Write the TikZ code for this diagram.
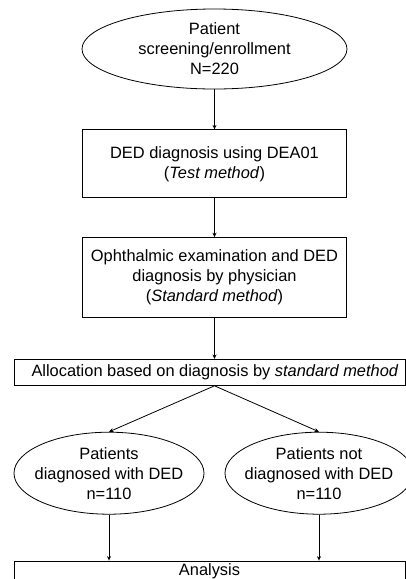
\documentclass[tikz,border=0pt]{standalone}
\usepackage{fontspec}
\setmainfont{Liberation Sans}
\usetikzlibrary{shapes.geometric, arrows.meta, positioning}
\tikzset{>={Stealth}}

\begin{document}
\begin{tikzpicture}[
      node distance=40pt,
      oval/.style={ellipse, draw, fill=white, align=center, inner sep=-12pt, line width=0.8pt, font=\fontsize{16.4}{20}\selectfont},
      block/.style={rectangle, draw, fill=white, align=center, minimum width=264pt, inner sep=0pt, line width=0.8pt, font=\fontsize{16.4}{20}\selectfont},
      wide/.style={rectangle, draw, fill=white, align=center, minimum width=391pt, inner sep=0pt, line width=0.8pt, font=\fontsize{16.4}{20}\selectfont},
      arrow/.style={-{Stealth[length=4.5pt, width=4pt]}, line width=0.8pt}
    ]
    \useasboundingbox (0,0) rectangle (406pt,-579pt);
    \clip (0,0) rectangle (406pt,-579pt);

    % 1. SCREENING
    \node[oval, minimum width=265pt, minimum height=80pt] (screen) at (214.5pt,-49pt) {Patient\\screening/enrollment\\N=220};

    % 2. TEST METHOD
    \node[block, minimum height=68pt, below=40pt of screen] (testdx) {DED diagnosis using DEA01\\(\textit{Test method})};

    % 3. STANDARD METHOD
    \node[block, minimum height=80pt, below=39pt of testdx] (stddx) {Ophthalmic examination and DED\\diagnosis by physician\\(\textit{Standard method})};

    % 4. ALLOCATION
    \node[wide, minimum height=26pt, below=41pt of stddx, xshift=-5pt] (alloc) {\hspace*{11pt}Allocation based on diagnosis by \textit{standard method}};

    % 5. GROUPS
    \node[oval, minimum width=190pt, minimum height=82pt, below=46pt of alloc, xshift=-100.5pt] (dedpos) {Patients\\diagnosed with DED\\n=110};
    \node[oval, minimum width=188pt, minimum height=82pt, below=46pt of alloc, xshift=109.5pt] (dedneg) {Patients not\\diagnosed with DED\\n=110};

    % 6. ANALYSIS
    \node[wide, minimum height=26pt, text height=11.8pt, text depth=9pt, below=46pt of dedpos, xshift=100.5pt] (analysis) {Analysis};

    %%% MAIN VERTICAL FLOW
    \draw[arrow] (screen.south) -- (testdx.north);
    \draw[arrow] (testdx.south) -- (stddx.north);
    \draw[arrow] (stddx.south) -- (stddx.south |- alloc.north);

    %%% SPLIT BY DIAGNOSIS
    \draw[arrow] (stddx.south |- alloc.south) -- (dedpos.north);
    \draw[arrow] (stddx.south |- alloc.south) -- (dedneg.north);

    %%% MERGE INTO ANALYSIS
    \draw[arrow] (dedpos.south) -- (dedpos.south |- analysis.north);
    \draw[arrow] (dedneg.south) -- (dedneg.south |- analysis.north);
    \end{tikzpicture}
\end{document}
